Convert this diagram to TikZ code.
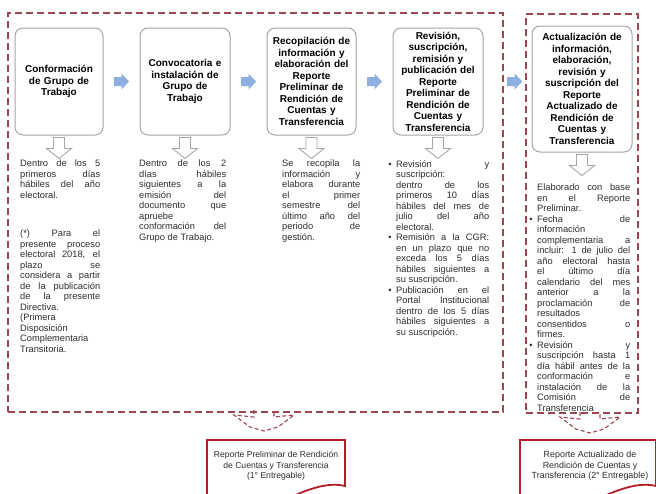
\documentclass[tikz,border=0pt]{standalone}
\usepackage{fontspec}
\setmainfont{Liberation Sans}
\usetikzlibrary{calc}
\tolerance=10000
\hbadness=10000
\definecolor{dashred}{RGB}{155,70,80}
\definecolor{boxgray}{RGB}{165,165,165}
\definecolor{arrblue}{RGB}{141,176,224}
\definecolor{delred}{RGB}{180,30,40}
\definecolor{txt}{RGB}{45,45,45}
\newcommand{\mybul}{\leavevmode\llap{\textbullet\hspace{4.5pt}}}
\begin{document}
\begin{tikzpicture}[x=1pt,y=-1pt,
 region/.style={draw=dashred,line width=1.3pt,dash pattern=on 7pt off 4pt,inner sep=0pt},
 stage/.style={draw=boxgray,line width=1pt,rounded corners=8pt,fill=white,align=center,inner sep=0pt,text=black,font=\bfseries\fontsize{10}{11.5}\selectfont},
 coltext/.style={anchor=north west,align=justify,inner sep=0pt,text=txt,font=\fontsize{9.3}{10.5}\selectfont},
 deliv/.style={align=center,inner sep=0pt,text=txt,font=\fontsize{8.6}{10.6}\selectfont},
 delframe/.style={draw=delred,line width=1.8pt},
 reddash/.style={draw=dashred,line width=1.1pt,dash pattern=on 4pt off 2.5pt},
 hollow/.pic={\draw[draw=boxgray,fill=white,line width=0.9pt] (-5.5,0) -- (5.5,0) -- (5.5,11) -- (12.5,11) -- (0,21) -- (-12.5,11) -- (-5.5,11) -- cycle;},
 blockarrow/.pic={\fill[arrblue] (-7.5,-4.5) -- (0,-4.5) -- (0,-8) -- (7.5,0) -- (0,8) -- (0,4.5) -- (-7.5,4.5) -- cycle;},
 curvedarrow/.pic={\draw[reddash] (-10,0) -- (-10,7) -- (-30,5) -- (-14,17) -- (0,21) -- (14,17) -- (30,5) -- (10,7) -- (10,0);}
]
\useasboundingbox (0,0) rectangle (656,493);
\fill[white] (0,0) rectangle (656,493);

% dashed regions
\node[region,minimum width=495,minimum height=399] (r1) at (255.5,212.5) {};
\node[region,minimum width=112,minimum height=399] (r2) at (582,213.5) {};

% stage boxes
\node[stage,minimum width=88,minimum height=107,text width=80] (b1) at (59,81.5) {Conformación\\de Grupo de\\Trabajo};
\node[stage,minimum width=90,minimum height=107,text width=82] (b2) at (185,81.5) {Convocatoria e\\instalación de\\Grupo de\\Trabajo};
\node[stage,minimum width=89,minimum height=107,text width=86] (b3) at (311.5,81.5) {Recopilación de\\información y\\elaboración del\\Reporte\\Preliminar de\\Rendición de\\Cuentas y\\Transferencia};
\node[stage,minimum width=90,minimum height=107,text width=86] (b4) at (438,81.5) {Revisión,\\suscripción,\\remisión y\\publicación del\\Reporte\\Preliminar de\\Rendición de\\Cuentas y\\Transferencia};
\node[stage,minimum width=100,minimum height=126,text width=94] (b5) at (582,89) {Actualización de\\información,\\elaboración,\\revisión y\\suscripción del\\Reporte\\Actualizado de\\Rendición de\\Cuentas y\\Transferencia};

% blue arrows between stages
\pic at ($(b1.east)!0.5!(b2.west)$) {blockarrow};
\pic at ($(b2.east)!0.5!(b3.west)$) {blockarrow};
\pic at ($(b3.east)!0.5!(b4.west)$) {blockarrow};
\pic at ($(b4.east)!0.65!(b5.west |- b4.west)$) {blockarrow};

% hollow down arrows
\pic at ([yshift=-2pt]b1.south) {hollow};
\pic at ([yshift=-2pt]b2.south) {hollow};
\pic at ([yshift=-2pt]b3.south) {hollow};
\pic at ([yshift=-2pt]b4.south) {hollow};
\pic at ([yshift=-2pt]b5.south) {hollow};

% column texts
\node[coltext,text width=80] (c1a) at (20,160) {Dentro de los 5\linebreak primeros días\linebreak hábiles del año\linebreak electoral.};
\node[coltext,text width=80] (c1b) at (20,230) {(*) Para el\linebreak presente proceso\linebreak electoral 2018, el\linebreak plazo se\linebreak considera a partir\linebreak de la publicación\linebreak de la presente\linebreak Directiva.\par (Primera\linebreak Disposición\linebreak Complementaria\linebreak Transitoria.};
\node[coltext,text width=87] (c2) at (139,160) {Dentro de los 2\linebreak días hábiles\linebreak siguientes a la\linebreak emisión del\linebreak documento que\linebreak apruebe\linebreak conformación del\linebreak Grupo de Trabajo.};
\node[coltext,text width=78] (c3) at (282,160) {Se recopila la\linebreak información y\linebreak elabora durante\linebreak el primer\linebreak semestre del\linebreak último año del\linebreak periodo de\linebreak gestión.};
\node[coltext,text width=93] (c4) at (396,160) {\mybul Revisión y\linebreak suscripción:\linebreak dentro de los\linebreak primeros 10 días\linebreak hábiles del mes de\linebreak julio del año\linebreak electoral.\par
\mybul Remisión a la CGR:\linebreak en un plazo que no\linebreak exceda los 5 días\linebreak hábiles siguientes a\linebreak su suscripción.\par
\mybul Publicación en el\linebreak Portal Institucional\linebreak dentro de los 5 días\linebreak hábiles siguientes a\linebreak su suscripción.};
\node[coltext,text width=93] (c5) at (537,184) {Elaborado con base\linebreak en el Reporte\linebreak Preliminar.\par
\mybul Fecha de\linebreak información\linebreak complementaria a\linebreak incluir: 1 de julio del\linebreak año electoral hasta\linebreak el último día\linebreak calendario del mes\linebreak anterior a la\linebreak proclamación de\linebreak resultados\linebreak consentidos o\linebreak firmes.\par
\mybul Revisión y\linebreak suscripción hasta 1\linebreak día hábil antes de la\linebreak conformación e\linebreak instalación de la\linebreak Comisión de\linebreak Transferencia};

% red dashed arrows to deliverables
\coordinate (k1) at (264,410);
\coordinate (k2) at (590,412);
\pic at (k1) {curvedarrow};
\pic at (k2) {curvedarrow};

% deliverables
\begin{scope}
\clip (0,0) rectangle (656,493);
\draw[delframe,fill=white] (207,505) -- (207,440) -- (345,440) -- (345,486) .. controls (325,481) and (300,492) .. (275,505);
\draw[delframe,fill=white] (520,505) -- (520,440) -- (656,440) -- (656,486) .. controls (636,481) and (611,492) .. (586,505);
\end{scope}
\node[deliv] (d1) at (276,466) {Reporte Preliminar de Rendición\\de Cuentas y Transferencia\\(1° Entregable)};
\node[deliv,font=\fontsize{8.9}{10.6}\selectfont] (d2) at (590,466) {Reporte Actualizado de\\Rendición de Cuentas y\\Transferencia (2° Entregable)};
\end{tikzpicture}
\end{document}
